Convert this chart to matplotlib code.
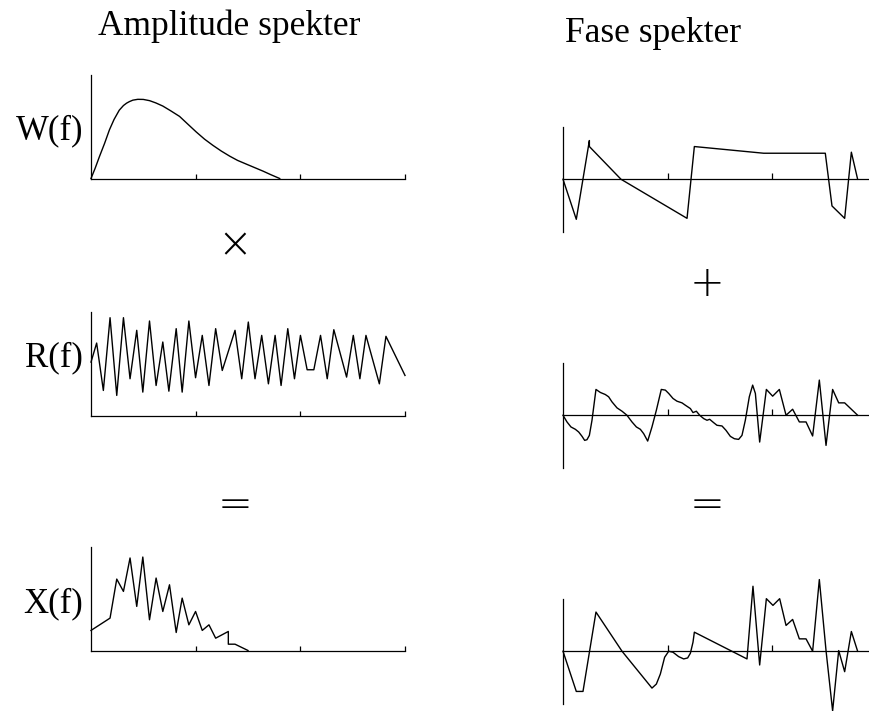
import numpy as np
import matplotlib.pyplot as plt

plt.rcParams['font.family'] = ['Liberation Serif', 'DejaVu Serif']

# amplitude spectra (x in units of tick spacing, 0..3)
w_x = [0, 0.04, 0.08, 0.13, 0.176, 0.22, 0.27, 0.31, 0.34, 0.367, 0.40,
       0.447, 0.50, 0.56, 0.62, 0.686, 0.76, 0.846, 0.92, 1.005,
       1.085, 1.165, 1.245, 1.325, 1.40, 1.484, 1.564, 1.644, 1.72, 1.803]
w_y = [0, 0.10, 0.21, 0.34, 0.47, 0.57, 0.66, 0.705, 0.728, 0.743, 0.757,
       0.765, 0.764, 0.752, 0.73, 0.70, 0.655, 0.60, 0.53, 0.45,
       0.38, 0.32, 0.265, 0.216, 0.175, 0.139, 0.105, 0.071, 0.036, 0.0]

r_x = [0, 0.054, 0.118, 0.182, 0.246, 0.310, 0.373, 0.437, 0.495, 0.559,
       0.622, 0.686, 0.744, 0.814, 0.871, 0.935, 0.999, 1.063, 1.127, 1.191,
       1.254, 1.376, 1.440, 1.503, 1.567, 1.631, 1.695, 1.759, 1.816, 1.880,
       1.944, 2.001, 2.065, 2.129, 2.193, 2.257, 2.320, 2.442, 2.506, 2.569,
       2.627, 2.755, 2.818, 3.0]
r_y = [0.516, 0.700, 0.242, 0.945, 0.194, 0.945, 0.355, 0.823, 0.226, 0.913,
       0.290, 0.710, 0.235, 0.839, 0.226, 0.913, 0.365, 0.774, 0.290, 0.839,
       0.435, 0.823, 0.355, 0.903, 0.355, 0.774, 0.306, 0.774, 0.290, 0.839,
       0.355, 0.774, 0.442, 0.442, 0.774, 0.355, 0.829, 0.371, 0.774, 0.355,
       0.774, 0.306, 0.765, 0.387]

x_x = [0, 0.182, 0.246, 0.310, 0.373, 0.437, 0.495, 0.559, 0.622, 0.686,
       0.750, 0.814, 0.871, 0.935, 0.999, 1.063, 1.127, 1.191, 1.312, 1.312,
       1.376, 1.500]
x_y = [0.194, 0.313, 0.690, 0.571, 0.894, 0.426, 0.903, 0.297, 0.700, 0.377,
       0.635, 0.174, 0.506, 0.248, 0.377, 0.194, 0.248, 0.119, 0.184, 0.061,
       0.061, 0.0]

# phase spectra
pw_x = [0, 0.127, 0.252, 0.252, 0.554, 1.185, 1.255, 1.917, 2.506, 2.570,
        2.691, 2.755, 2.815]
pw_y = [0, -0.767, 0.741, 0.626, 0, -0.748, 0.626, 0.498, 0.498, -0.511,
        -0.748, 0.518, 0]

pr_x = [0, 0.038, 0.076, 0.118, 0.150, 0.182, 0.207, 0.229, 0.252, 0.277,
        0.315, 0.357, 0.404, 0.436, 0.468, 0.516, 0.564, 0.611, 0.659, 0.701,
        0.739, 0.771, 0.809, 0.850, 0.892, 0.939, 0.978, 1.010, 1.051, 1.089,
        1.137, 1.169, 1.217, 1.242, 1.274, 1.306, 1.344, 1.376, 1.401, 1.439,
        1.471, 1.519, 1.557, 1.599, 1.637, 1.678, 1.710, 1.742, 1.780, 1.812,
        1.838, 1.879, 1.943, 2.003, 2.067, 2.131, 2.194, 2.258, 2.322, 2.385,
        2.449, 2.513, 2.576, 2.634, 2.691, 2.815]
pr_y = [0, -0.128, -0.224, -0.269, -0.321, -0.404, -0.481, -0.468, -0.385, -0.096,
        0.494, 0.436, 0.397, 0.353, 0.256, 0.141, 0.077, 0, -0.128, -0.224,
        -0.269, -0.353, -0.494, -0.224, 0.096, 0.494, 0.481, 0.417, 0.321, 0.269,
        0.237, 0.192, 0.128, 0.051, 0.077, 0, -0.064, -0.096, -0.077, -0.141,
        -0.192, -0.205, -0.288, -0.404, -0.449, -0.462, -0.385, -0.096, 0.353, 0.577,
        0.417, -0.513, 0.494, 0.365, 0.494, 0, 0.115, -0.128, -0.128, -0.397,
        0.673, -0.577, 0.494, 0.237, 0.237, 0]

px_x = [0, 0.127, 0.191, 0.315, 0.564, 0.850, 0.892, 0.930, 0.971, 1.010,
        1.051, 1.105, 1.153, 1.191, 1.217, 1.242, 1.255, 1.758, 1.815, 1.879,
        1.943, 2.006, 2.070, 2.131, 2.194, 2.258, 2.322, 2.385, 2.449, 2.513,
        2.576, 2.634, 2.691, 2.755, 2.815]
px_y = [0, -0.769, -0.769, 0.750, 0, -0.705, -0.628, -0.436, -0.115, 0,
        -0.019, -0.103, -0.147, -0.128, -0.038, 0.173, 0.365, -0.147, 1.244, -0.263,
        1.006, 0.878, 1.006, 0.494, 0.609, 0.237, 0.237, 0, 1.372, 0.013,
        -1.141, 0.013, -0.391, 0.378, 0]

amp_labels = ['W(f)', 'R(f)', 'X(f)']
operators_amp = ['\u00d7', '=']
operators_phase = ['+', '=']

W, H = 869, 711
fig = plt.figure(figsize=(W / 100, H / 100), dpi=100)


def px_axes(left, top, width, height):
    return fig.add_axes([left / W, 1 - (top + height) / H, width / W, height / H])


def style_amp(ax):
    ax.set_xlim(0, 3)
    ax.set_ylim(0, 1)
    for s in ['top', 'right']:
        ax.spines[s].set_visible(False)
    ax.spines['left'].set_linewidth(0.9)
    ax.spines['bottom'].set_linewidth(0.9)
    ax.set_xticks([1, 2, 3])
    ax.set_yticks([])
    ax.set_xticklabels([])
    ax.tick_params(axis='x', direction='in', length=3.8, width=0.9)
    ax.patch.set_visible(False)


def style_phase(ax):
    ax.set_xlim(0, 3)
    ax.set_ylim(-1, 1)
    for s in ['top', 'right']:
        ax.spines[s].set_visible(False)
    ax.spines['bottom'].set_position(('data', 0))
    ax.spines['left'].set_linewidth(0.9)
    ax.spines['bottom'].set_linewidth(0.9)
    ax.set_xticks([1, 2, 3])
    ax.set_yticks([])
    ax.set_xticklabels([])
    ax.tick_params(axis='x', direction='in', length=4.3, width=0.9)
    ax.patch.set_visible(False)


amp_tops = [75, 312, 547]
amp_data = [(w_x, w_y), (r_x, r_y), (x_x, x_y)]
label_y = [131, 358, 604]
for top, (xs, ys), lab, ly in zip(amp_tops, amp_data, amp_labels, label_y):
    ax = px_axes(91, top, 314, 103.5)
    style_amp(ax)
    ax.plot(xs, ys, color='black', lw=1.0, clip_on=False)
    fig.text(83 / W, 1 - ly / H, lab, ha='right', va='center', fontsize=25)

phase_tops = [127, 363, 599]
phase_data = [(pw_x, pw_y), (pr_x, pr_y), (px_x, px_y)]
for top, (xs, ys) in zip(phase_tops, phase_data):
    ax = px_axes(563, top, 314, 104.5)
    style_phase(ax)
    ax.plot(xs, ys, color='black', lw=1.0, clip_on=False)

fig.text(229 / W, 1 - 35 / H, 'Amplitude spekter', ha='center', va='baseline', fontsize=25.5)
fig.text(653 / W, 1 - 42 / H, 'Fase spekter', ha='center', va='baseline', fontsize=25.5)

for op, yy in zip(operators_amp, [245, 505]):
    fig.text(235 / W, 1 - yy / H, op, ha='center', va='center', fontsize=30,
             family='DejaVu Sans', fontweight='ultralight')
for op, yy in zip(operators_phase, [284, 505]):
    fig.text(707 / W, 1 - yy / H, op, ha='center', va='center', fontsize=30,
             family='DejaVu Sans', fontweight='ultralight')

fig.savefig('out.png', dpi=100)
